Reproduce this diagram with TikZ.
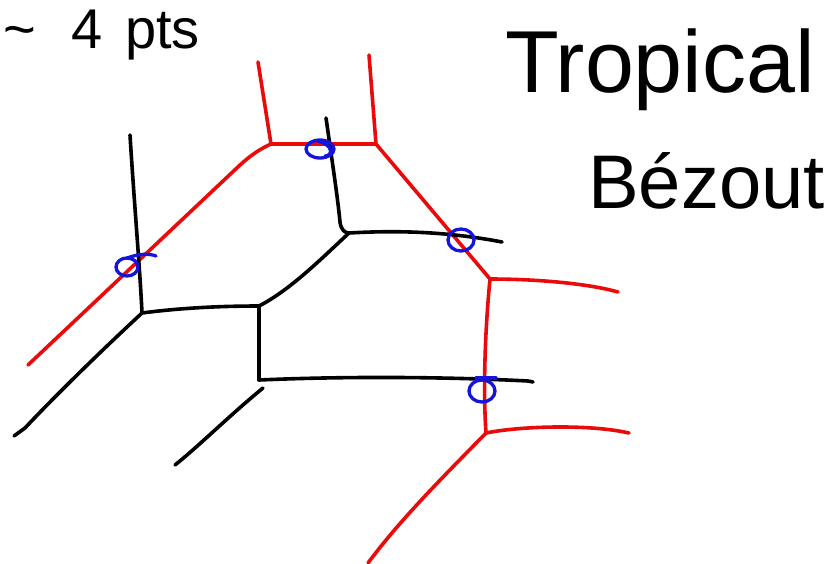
\documentclass[tikz,border=0pt]{standalone}
\usepackage{fontspec}
\setmainfont{Liberation Sans}
\begin{document}
\begin{tikzpicture}[x=1pt,y=-1pt,
  stroke/.style={line width=3.6pt,line cap=round,line join=round},
  redline/.style={stroke,draw={rgb,255:red,235;green,10;blue,10}},
  blackline/.style={stroke,draw=black},
  ptmark/.style={line width=3.3pt,draw={rgb,255:red,20;green,20;blue,220},line cap=round},
  words/.style={anchor=base west,inner sep=0pt,text=black}]
\useasboundingbox (0,0) rectangle (832,563);

% ---- red tropical curve ----
\coordinate (rTL) at (258,62);
\coordinate (rA) at (271,144);
\coordinate (rTR) at (369,55);
\coordinate (rB) at (376,144);
\coordinate (rC) at (490,279);
\coordinate (rCE) at (618,292);
\coordinate (rD) at (486,433);
\coordinate (rDE) at (629,433);
\coordinate (rDS) at (368,563);
\coordinate (rW) at (28,365);

\draw[redline] (rTL) -- (rA) -- (rB) -- (rTR);
\draw[redline] (rA) .. controls (258,150) and (250,156) .. (240,165) -- (rW);
\draw[redline] (rB) -- (rC);
\draw[redline] (rC) .. controls (540,279) and (590,284) .. (rCE);
\draw[redline] (rC) .. controls (485,330) and (483,390) .. (rD);
\draw[redline] (rD) .. controls (520,426) and (590,424) .. (rDE);
\draw[redline] (rD) .. controls (440,480) and (400,520) .. (rDS);

% ---- black tropical curve ----
\coordinate (bT) at (130,135);
\coordinate (bA) at (142,313);
\coordinate (bSW) at (14,436);
\coordinate (bB) at (259,306);
\coordinate (bC) at (349,233);
\coordinate (bCT) at (326,118);
\coordinate (bCE) at (502,242);
\coordinate (bD) at (259,380);
\coordinate (bDE) at (533,382);
\coordinate (bL1) at (263,388);
\coordinate (bL2) at (175,465);

\draw[blackline] (bT) .. controls (134,200) and (140,270) .. (bA);
\draw[blackline] (bA) .. controls (100,352) and (55,396) .. (25,428) -- (bSW);
\draw[blackline] (bA) .. controls (180,308) and (220,306) .. (bB);
\draw[blackline] (bB) -- (bD);
\draw[blackline] (bB) .. controls (290,290) and (320,260) .. (bC);
\draw[blackline] (bCT) .. controls (332,160) and (338,200) .. (340,222) .. controls (341,230) and (345,233) .. (bC);
\draw[blackline] (bC) .. controls (400,230) and (450,232) .. (bCE);
\draw[blackline] (bD) .. controls (350,376) and (450,377) .. (528,381) -- (bDE);
\draw[blackline] (bL1) .. controls (230,415) and (200,445) .. (bL2);

% ---- intersection points ----
\draw[ptmark] (127,267) ellipse[x radius=11,y radius=9];
\draw[ptmark] (127,258) .. controls (138,254) and (148,253) .. (156,256);
\draw[ptmark] (320,149) ellipse[x radius=14,y radius=9];
\draw[ptmark] (318,141) .. controls (335,146) and (332,156) .. (325,156);
\draw[ptmark] (461,240) ellipse[x radius=13,y radius=11];
\draw[ptmark] (482,391) ellipse[x radius=13,y radius=11];
\draw[ptmark] (476,378) -- (496,378);

% ---- labels ----
\node[words,font=\fontsize{56}{56}\selectfont] (pts) at (3,48)
  {\textasciitilde\hspace{36pt}4\hspace{22pt}pts};
\node[words,font=\fontsize{88}{88}\selectfont] (trop) at (505,92) {Tropical};
\node[words,font=\fontsize{76}{76}\selectfont] (bez) at (588,208) {Bézout};
\end{tikzpicture}
\end{document}
